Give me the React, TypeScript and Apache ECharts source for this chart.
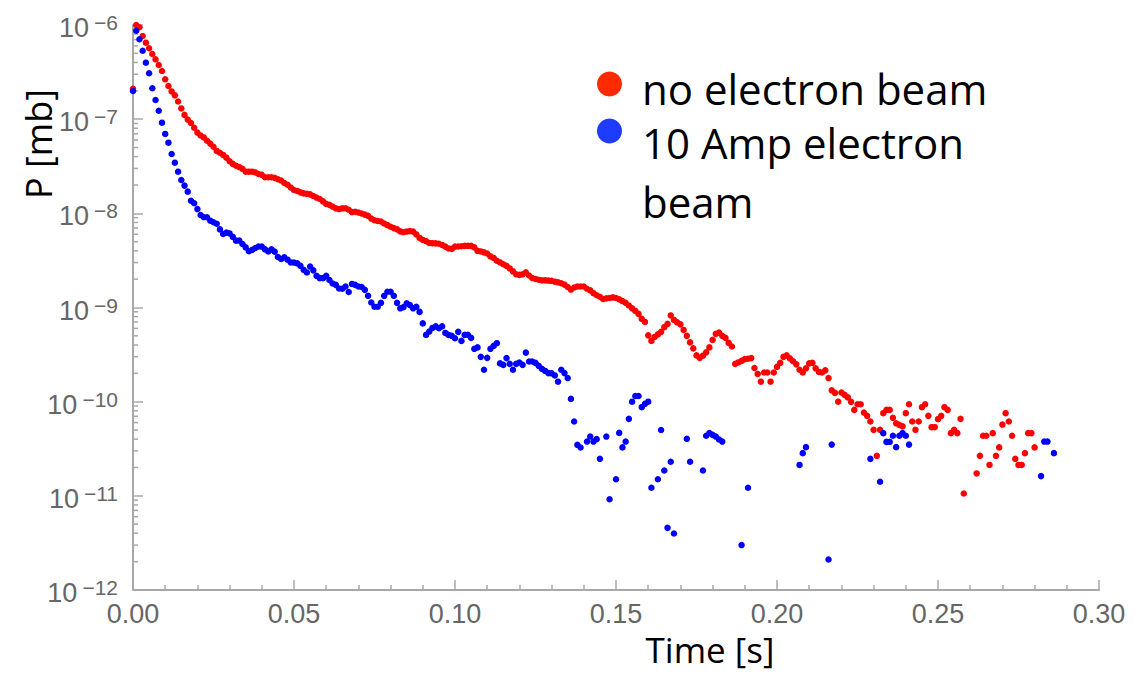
import React, { useEffect, useRef } from "react";
import * as echarts from "echarts";

// sampling interval of both pressure records (s)
const TIME_STEP = 0.001;

// P [mb] without electron beam, one value per TIME_STEP from t = 0 (null = no point)
const noBeamP: (number | null)[] = [
  2.1e-7, 1.0e-6, 9.46e-7, 7.64e-7, 6.49e-7, 5.66e-7, 4.92e-7, 4.32e-7, 3.76e-7, 3.25e-7, // 0-9
  2.65e-7, 2.25e-7, 1.97e-7, 1.79e-7, 1.54e-7, 1.3e-7, 1.11e-7, 9.9e-8, 9.1e-8, 8.1e-8, // 10-19
  7.2e-8, 6.7e-8, 6.4e-8, 5.9e-8, 5.5e-8, 5.1e-8, 4.6e-8, 4.4e-8, 4.17e-8, 3.9e-8, // 20-29
  3.57e-8, 3.35e-8, 3.2e-8, 3.1e-8, 2.97e-8, 2.77e-8, 2.77e-8, 2.77e-8, 2.72e-8, 2.62e-8, // 30-39
  2.56e-8, 2.42e-8, 2.42e-8, 2.42e-8, 2.38e-8, 2.3e-8, 2.23e-8, 2.1e-8, 2.01e-8, 1.88e-8, // 40-49
  1.77e-8, 1.73e-8, 1.67e-8, 1.63e-8, 1.61e-8, 1.59e-8, 1.53e-8, 1.47e-8, 1.42e-8, 1.34e-8, // 50-59
  1.26e-8, 1.23e-8, 1.18e-8, 1.13e-8, 1.11e-8, 1.13e-8, 1.13e-8, 1.09e-8, 1.03e-8, 1.04e-8, // 60-69
  1.02e-8, 9.95e-9, 9.7e-9, 9.4e-9, 8.8e-9, 8.45e-9, 8.3e-9, 8.2e-9, 7.8e-9, 7.5e-9, // 70-79
  7.2e-9, 6.97e-9, 6.75e-9, 6.43e-9, 6.3e-9, 6.4e-9, 6.47e-9, 6.4e-9, 5.97e-9, 5.48e-9, // 80-89
  5.22e-9, 5.07e-9, 4.85e-9, 4.82e-9, 4.8e-9, 4.76e-9, 4.62e-9, 4.43e-9, 4.24e-9, 4.19e-9, // 90-99
  4.43e-9, 4.45e-9, 4.47e-9, 4.51e-9, 4.51e-9, 4.51e-9, 4.35e-9, 3.99e-9, 3.94e-9, 3.85e-9, // 100-109
  3.75e-9, 3.49e-9, 3.36e-9, 3.14e-9, 3.01e-9, 2.88e-9, 2.77e-9, 2.6e-9, 2.42e-9, 2.25e-9, // 110-119
  2.22e-9, 2.25e-9, 2.36e-9, 2.19e-9, 2.06e-9, 2.01e-9, 1.97e-9, 1.94e-9, 1.94e-9, 1.93e-9, // 120-129
  1.92e-9, 1.88e-9, 1.85e-9, 1.81e-9, 1.75e-9, 1.65e-9, 1.55e-9, 1.63e-9, 1.67e-9, 1.67e-9, // 130-139
  1.67e-9, 1.58e-9, 1.52e-9, 1.42e-9, 1.35e-9, 1.3e-9, 1.23e-9, 1.25e-9, 1.26e-9, 1.28e-9, // 140-149
  1.26e-9, 1.22e-9, 1.17e-9, 1.12e-9, 1.05e-9, 9.8e-10, 9.2e-10, 8.55e-10, 7.57e-10, 7.03e-10, // 150-159
  5.06e-10, 4.42e-10, 4.87e-10, 5.18e-10, 5.51e-10, 6.18e-10, 6.7e-10, 8.24e-10, 7.38e-10, 6.95e-10, // 160-169
  6.62e-10, 5.78e-10, 5.0e-10, 4.26e-10, 3.68e-10, 3.1e-10, 2.92e-10, 3.08e-10, 3.34e-10, 3.77e-10, // 170-179
  4.53e-10, 5.25e-10, 5.41e-10, 5.0e-10, 4.76e-10, 4.21e-10, 3.85e-10, 2.52e-10, 2.61e-10, 2.71e-10, // 180-189
  2.83e-10, 2.86e-10, 2.9e-10, 2.28e-10, 1.97e-10, 1.63e-10, 2.04e-10, 2.04e-10, 1.63e-10, 2.04e-10, // 190-199
  2.34e-10, 2.58e-10, 2.99e-10, 3.1e-10, 2.88e-10, 2.69e-10, 2.49e-10, 2.18e-10, 2.04e-10, 2.26e-10, // 200-209
  2.55e-10, 2.58e-10, 2.26e-10, 2.07e-10, 2.04e-10, 2.15e-10, 1.78e-10, 1.32e-10, 1.24e-10, 1.0e-10, // 210-219
  1.25e-10, 1.18e-10, 1.11e-10, 9.95e-11, 8.18e-11, 9.4e-11, 9.4e-11, 7.66e-11, 7.07e-11, 6.15e-11, // 220-229
  5.02e-11, 2.66e-11, 5.02e-11, 7.55e-11, 8.18e-11, 8.18e-11, 6.73e-11, 5.89e-11, 5.67e-11, 5.47e-11, // 230-239
  7.55e-11, 9.4e-11, 6.15e-11, 5.02e-11, 6.15e-11, 8.74e-11, 9.4e-11, 7.07e-11, 5.36e-11, 5.36e-11, // 240-249
  6.52e-11, 7.07e-11, 8.74e-11, 8.18e-11, 4.63e-11, 5.02e-11, 4.63e-11, 6.57e-11, 1.06e-11, null, // 250-259
  null, null, 1.73e-11, 2.66e-11, 4.34e-11, 4.34e-11, 2.13e-11, 4.63e-11, 2.66e-11, 3.27e-11, // 260-269
  5.71e-11, 7.55e-11, 6.15e-11, 4.34e-11, 2.47e-11, 2.13e-11, 2.13e-11, 2.84e-11, 4.63e-11, 4.63e-11, // 270-279
  3.27e-11, // 280
];

// P [mb] with a 10 Amp electron beam, one value per TIME_STEP from t = 0 (null = no point)
const beam10AP: (number | null)[] = [
  1.99e-7, 8.7e-7, 7.05e-7, 5.33e-7, 3.98e-7, 3.07e-7, 2.13e-7, 1.6e-7, 1.23e-7, 9.18e-8, // 0-9
  6.97e-8, 5.63e-8, 4.27e-8, 3.45e-8, 2.77e-8, 2.26e-8, 1.97e-8, 1.7e-8, 1.36e-8, 1.28e-8, // 10-19
  1.11e-8, 9.6e-9, 9.1e-9, 9.1e-9, 8.36e-9, 8.05e-9, 7.76e-9, 6.75e-9, 6.04e-9, 6.24e-9, // 20-29
  6.12e-9, 5.62e-9, 5.13e-9, 5.13e-9, 4.73e-9, 4.35e-9, 3.96e-9, 4.09e-9, 4.29e-9, 4.45e-9, // 30-39
  4.43e-9, 4.14e-9, 3.94e-9, 4.14e-9, 3.92e-9, 3.44e-9, 3.28e-9, 3.42e-9, 3.22e-9, 3.01e-9, // 40-49
  3.0e-9, 2.94e-9, 2.77e-9, 2.51e-9, 2.35e-9, 2.72e-9, 2.48e-9, 2.17e-9, 2.05e-9, 2.05e-9, // 50-59
  2.17e-9, 1.96e-9, 1.8e-9, 1.74e-9, 1.59e-9, 1.58e-9, 1.67e-9, 1.46e-9, 1.78e-9, 1.74e-9, // 60-69
  1.67e-9, 1.65e-9, 1.54e-9, 1.33e-9, 1.13e-9, 1.02e-9, 1.02e-9, 1.12e-9, 1.33e-9, 1.47e-9, // 70-79
  1.47e-9, 1.33e-9, 1.12e-9, 9.8e-10, 1.01e-9, 1.11e-9, 1.06e-9, 9.8e-10, 1.02e-9, 8.98e-10, // 80-89
  6.78e-10, 5.12e-10, 5.55e-10, 6.07e-10, 6.3e-10, 6.03e-10, 6.3e-10, 5.37e-10, 5.12e-10, 5.0e-10, // 90-99
  4.72e-10, 5.51e-10, 4.42e-10, 5.12e-10, 5.12e-10, 4.76e-10, 3.64e-10, 3.77e-10, 2.99e-10, 2.18e-10, // 100-109
  2.92e-10, 3.64e-10, 3.91e-10, 4.18e-10, 2.55e-10, 2.46e-10, 2.9e-10, 2.52e-10, 2.18e-10, 2.52e-10, // 110-119
  2.6e-10, 2.46e-10, 3.32e-10, 2.67e-10, 2.67e-10, 2.58e-10, 2.4e-10, 2.23e-10, 2.12e-10, 2.01e-10, // 120-129
  2.0e-10, 1.9e-10, 1.63e-10, 2.18e-10, 2.01e-10, 1.78e-10, 1.07e-10, 6.15e-11, 3.48e-11, 3.26e-11, // 130-139
  null, 3.77e-11, 4.26e-11, 3.77e-11, 4.0e-11, 2.47e-11, null, 4.26e-11, 9.2e-12, null, // 140-149
  1.5e-11, 4.66e-11, 3.27e-11, 3.77e-11, 6.57e-11, 1.0e-10, 1.15e-10, 1.15e-10, 8.74e-11, 9.48e-11, // 150-159
  1.0e-10, 1.22e-11, null, 1.5e-11, 5.0e-11, 1.86e-11, 4.57e-12, 2.3e-11, 3.98e-12, null, // 160-169
  null, null, 4.03e-11, 2.3e-11, null, null, null, 1.86e-11, 4.34e-11, 4.63e-11, // 170-179
  4.44e-11, 4.26e-11, 3.96e-11, 3.77e-11, null, null, null, null, null, 3.0e-12, // 180-189
  null, 1.22e-11, null, null, null, null, null, null, null, null, // 190-199
  null, null, null, null, null, null, null, 2.13e-11, 2.84e-11, 3.29e-11, // 200-209
  null, null, null, null, null, null, 2.11e-12, 3.5e-11, null, null, // 210-219
  null, null, null, null, null, null, null, null, null, 2.47e-11, // 220-229
  null, null, 1.41e-11, 4.63e-11, 3.74e-11, 3.74e-11, 4.34e-11, 3.29e-11, 4.34e-11, 4.63e-11, // 230-239
  4.34e-11, 3.5e-11, null, null, null, null, null, null, null, null, // 240-249
  null, null, null, null, null, null, null, null, null, null, // 250-259
  null, null, null, null, null, null, null, null, null, null, // 260-269
  null, null, null, null, null, null, null, null, null, null, // 270-279
  null, null, 1.62e-11, 3.77e-11, 3.77e-11, null, 2.84e-11, // 280-286
];

const SERIES_NAMES = ["no electron beam", "10 Amp electron beam"];
const LEGEND_LINES = [["no electron beam"], ["10 Amp electron", "beam"]];
const X_MIN = 0;
const X_MAX = 0.3;
const X_INTERVAL = 0.05;
const Y_MIN = 1e-12;
const Y_MAX = 1e-6;
const MINOR_DECADES = [-12, -11, -10, -9, -8, -7];
const MINOR_MULTIPLES = [2, 3, 4, 5, 6, 7, 8, 9];

const AXIS_GRAY = "#a8a8a8";
const LABEL_GRAY = "#666666";
const TITLE_FONT = "'Open Sans', 'Noto Sans', sans-serif";
const TICK_FONT = "'Liberation Sans', Arial, sans-serif";

function toPoints(values: (number | null)[]): [number, number][] {
  const out: [number, number][] = [];
  values.forEach((p, i) => {
    if (p != null) out.push([Number((i * TIME_STEP).toFixed(3)), p]);
  });
  return out;
}

const minorTickValues: number[] = [];
MINOR_DECADES.forEach((d) => {
  MINOR_MULTIPLES.forEach((m) => minorTickValues.push(m * Math.pow(10, d)));
});

function legendText(lines: string[]): string {
  return "{s| }\n" + lines.map((l) => "{a|" + l + "}").join("\n");
}

export default function App() {
  const ref = useRef<HTMLDivElement>(null);

  useEffect(() => {
    document.body.style.margin = "0";
    if (!ref.current) return;
    const chart = echarts.init(ref.current, undefined, { renderer: "svg" });

    const legendBase = {
      left: 597,
      orient: "vertical",
      padding: 0,
      itemWidth: 25,
      itemHeight: 25,
      icon: "circle",
      selectedMode: false,
    };

    const option: any = {
      animation: false,
      backgroundColor: "#ffffff",
      grid: { left: 133, top: 25, width: 966, height: 565, containLabel: false },
      xAxis: {
        type: "value",
        min: X_MIN,
        max: X_MAX,
        interval: X_INTERVAL,
        axisLine: { show: true, lineStyle: { color: AXIS_GRAY, width: 2 } },
        axisTick: { show: true, inside: true, length: 10, lineStyle: { color: AXIS_GRAY, width: 1.5 } },
        minorTick: { show: true, splitNumber: 5, length: 5, lineStyle: { color: AXIS_GRAY, width: 1.5 } },
        splitLine: { show: false },
        minorSplitLine: { show: false },
        axisLabel: {
          color: LABEL_GRAY,
          fontSize: 27,
          fontFamily: TICK_FONT,
          margin: 10,
          formatter: (v: number) => v.toFixed(2),
        },
      },
      yAxis: {
        type: "log",
        logBase: 10,
        min: Y_MIN,
        max: Y_MAX,
        splitNumber: 6,
        axisLine: { show: true, lineStyle: { color: AXIS_GRAY, width: 2 } },
        axisTick: { show: true, inside: true, length: 10, lineStyle: { color: AXIS_GRAY, width: 1.5 } },
        splitLine: { show: false },
        axisLabel: {
          margin: 15,
          formatter: (v: number) => "{b|10}{e|\u2212" + Math.round(-Math.log10(v)) + "}",
          rich: {
            b: { fontSize: 27, fontFamily: TICK_FONT, color: LABEL_GRAY, lineHeight: 26, padding: [6, 2, 0, 0] },
            e: { fontSize: 21, fontFamily: TICK_FONT, color: LABEL_GRAY, lineHeight: 18, verticalAlign: "top", padding: [0, 0, 0, 3] },
          },
        },
      },
      legend: [
        {
          ...legendBase,
          top: 55,
          data: [{ name: SERIES_NAMES[0], itemStyle: { color: "#ff2a00", opacity: 1 } }],
          formatter: () => legendText(LEGEND_LINES[0]),
          textStyle: {
            padding: [0, 0, 0, 15],
            rich: {
              s: { fontSize: 8, lineHeight: 9 },
              a: { fontFamily: TITLE_FONT, fontSize: 42, color: "#000", lineHeight: 50 },
            },
          },
        },
        {
          ...legendBase,
          top: 68,
          data: [{ name: SERIES_NAMES[1], itemStyle: { color: "#1e3cff", opacity: 1 } }],
          formatter: () => legendText(LEGEND_LINES[1]),
          textStyle: {
            padding: [0, 0, 0, 15],
            rich: {
              s: { fontSize: 8, lineHeight: 81 },
              a: { fontFamily: TITLE_FONT, fontSize: 42, color: "#000", lineHeight: 59 },
            },
          },
        },
      ],
      graphic: [
        {
          type: "text",
          x: 38,
          y: 144,
          rotation: Math.PI / 2,
          silent: true,
          style: {
            text: "P [mb]",
            fontSize: 36,
            fontFamily: TITLE_FONT,
            fill: "#000",
            align: "center",
            verticalAlign: "middle",
          },
        },
        {
          type: "text",
          x: 710,
          y: 649,
          silent: true,
          style: {
            text: "Time [s]",
            fontSize: 35,
            fontFamily: TITLE_FONT,
            fill: "#000",
            align: "center",
            verticalAlign: "middle",
          },
        },
      ],
      series: [
        {
          name: SERIES_NAMES[0],
          type: "scatter",
          data: toPoints(noBeamP),
          symbol: "circle",
          symbolSize: 6.5,
          itemStyle: { color: "#ff0000", opacity: 1 },
          z: 3,
        },
        {
          name: SERIES_NAMES[1],
          type: "scatter",
          data: toPoints(beam10AP),
          symbol: "circle",
          symbolSize: 6.5,
          itemStyle: { color: "#0000ff", opacity: 1 },
          z: 4,
        },
        {
          name: "log minor ticks",
          type: "custom",
          silent: true,
          clip: false,
          data: minorTickValues.map((v) => [X_MIN, v]),
          encode: { x: 0, y: 1 },
          renderItem: (_params: any, api: any) => {
            const p = api.coord([X_MIN, api.value(1)]);
            return {
              type: "line",
              shape: { x1: p[0], y1: p[1], x2: p[0] + 5, y2: p[1] },
              style: { stroke: AXIS_GRAY, lineWidth: 1.5 },
            };
          },
          z: 2,
        },
      ],
    };

    chart.setOption(option);
    return () => chart.dispose();
  }, []);

  return <div ref={ref} style={{ width: 1145, height: 673 }} />;
}
